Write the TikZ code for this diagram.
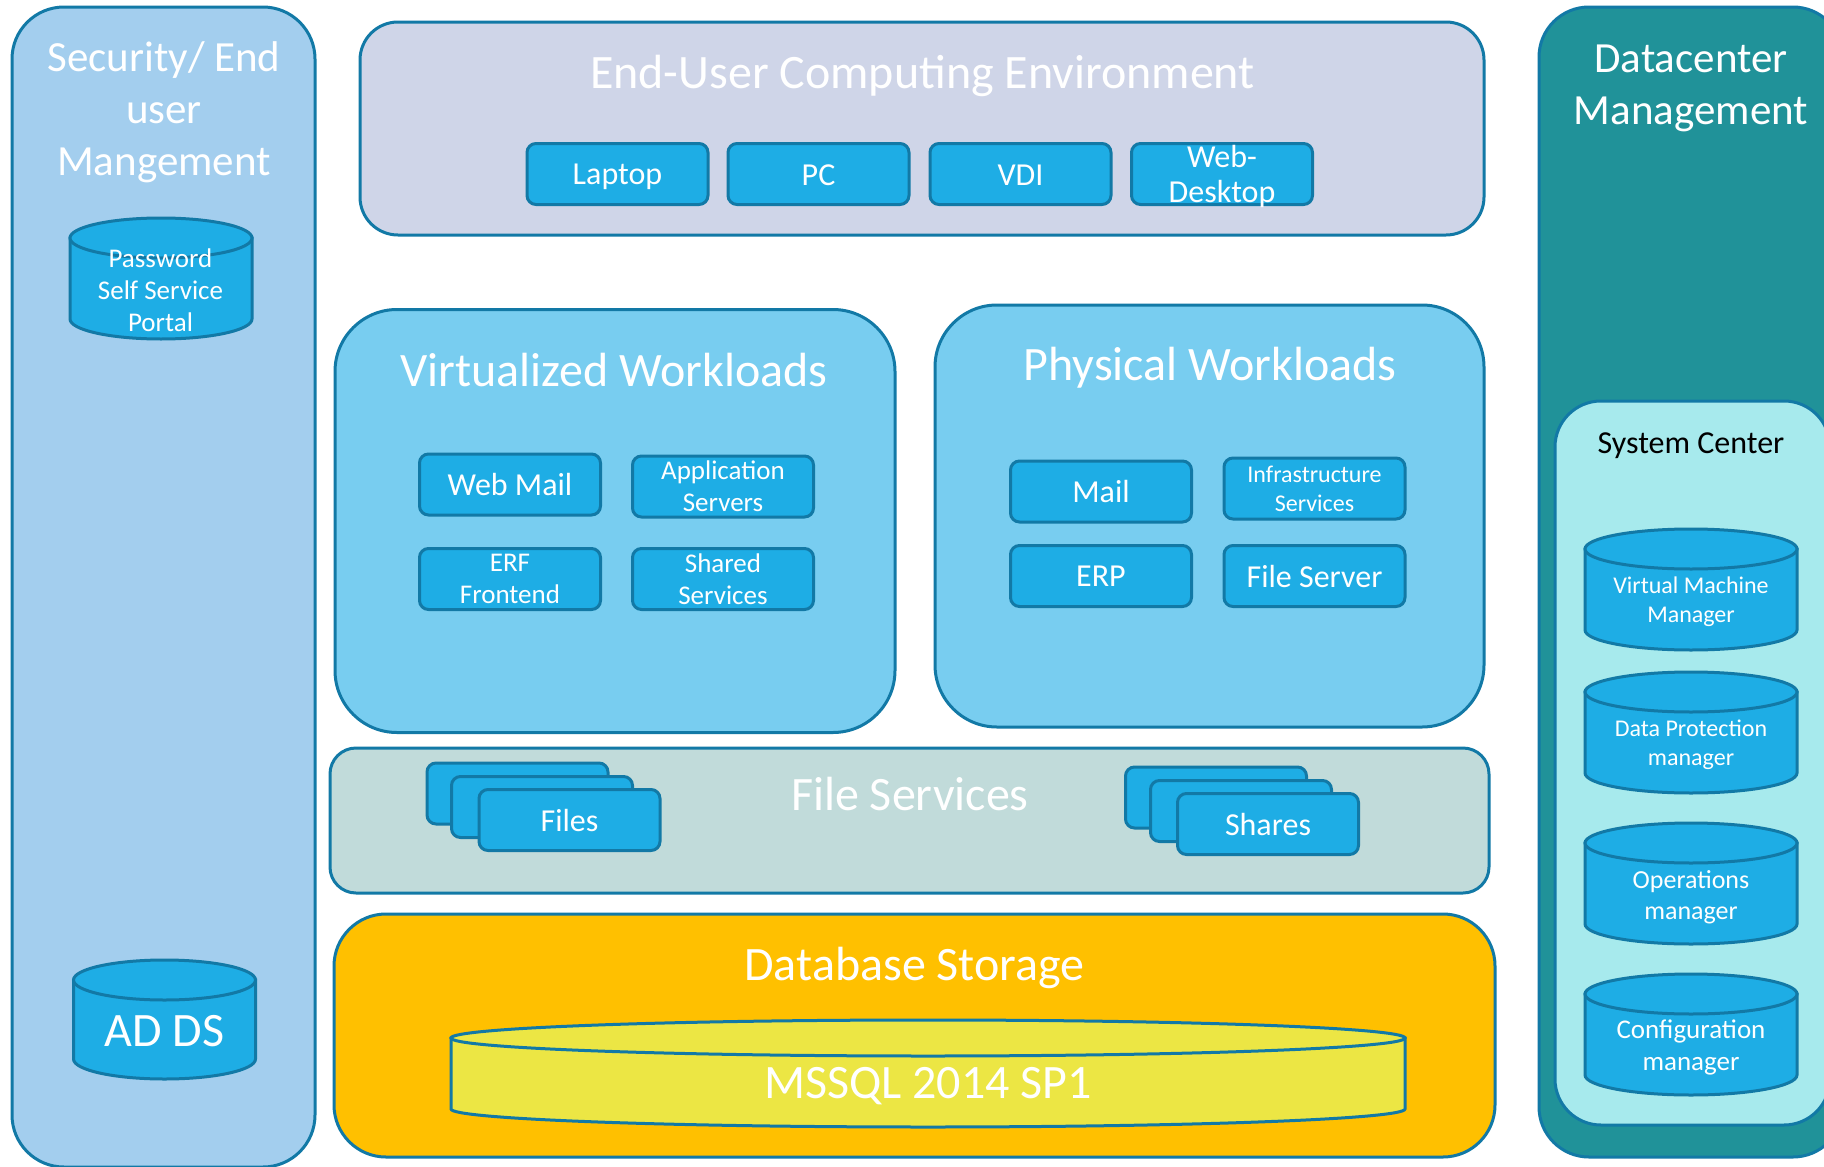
\documentclass[tikz,border=0pt]{standalone}
\usepackage{fontspec}
\setmainfont{Carlito}
\usepackage{tikz}
\definecolor{edgeblue}{HTML}{1279A6}
\definecolor{boxblue}{HTML}{1EADE5}
\definecolor{secblue}{HTML}{A3CEEE}
\definecolor{userlilac}{HTML}{CFD5E8}
\definecolor{workblue}{HTML}{78CDF0}
\definecolor{filegrey}{HTML}{C1DBDA}
\definecolor{dbamber}{HTML}{FFC000}
\definecolor{sqlyellow}{HTML}{ECE644}
\definecolor{dcteal}{HTML}{209299}
\definecolor{sysaqua}{HTML}{A7EAED}
\newcommand{\fs}[1]{\fontsize{#1}{\the\numexpr#1*6/5\relax}\selectfont}
% centre, half width, rim centre, rim radius, end of side
\newcommand{\drumat}[6][boxblue]{
	\filldraw[drumline, fill=#1] (#2-#3,#4) -- (#2-#3,#6) arc[x radius=#3, y radius=#5, start angle=180, end angle=0] -- (#2+#3,#4) -- cycle;
	\filldraw[drumline, fill=#1] (#2,#4) ellipse [x radius=#3, y radius=#5];
}

\begin{document}
\begin{tikzpicture}[x=1pt, y=-1pt,
		panel/.style={draw=edgeblue, line width=3pt, rounded corners=#1, inner sep=0pt},
		tile/.style={draw=edgeblue, line width=3pt, rounded corners=9pt, fill=boxblue, minimum width=181pt, minimum height=61pt, inner sep=0pt},
		drumline/.style={draw=edgeblue, line width=3pt},
		title/.style={text=white, align=center, inner sep=0pt, font=\fs{#1}},
		tilelabel/.style={text=white, align=center, inner sep=0pt, font=\fs{#1}}]
	\clip (0,0) rectangle (1824,1167);
	\fill[white] (0,0) rectangle (1824,1167);
	% 
	\node[panel=52pt, fill=secblue, minimum width=303pt, minimum height=1160pt] (security) at (163.5,587) {};
	\node[title=43] (securitytitle) at (164,112) {Security/ End\\user\\Mangement};
	\drumat{161}{91}{238}{20}{319}
	\node[tilelabel=27] (password) at (160.5,290) {Password\\Self Service\\Portal};
	\drumat{164.5}{91}{980}{20}{1059}
	\node[tilelabel=48] (adds) at (164.5,1031) {AD DS};
	% 
	\node[panel=38pt, fill=userlilac, minimum width=1124pt, minimum height=213pt] (enduser) at (922,128.5) {};
	\node[title=48] (endusertitle) at (922.5,76) {End-User Computing Environment};
	\node[tile] (laptop) at (617.5,174) {};
	\node[tile] (pc) at (818.5,174) {};
	\node[tile] (vdi) at (1020.5,174) {};
	\node[tile] (webdesktop) at (1222,174) {};
	\node[tilelabel=32, yshift=-3pt] at (laptop) {Laptop};
	\node[tilelabel=32, yshift=-1pt] at (pc) {PC};
	\node[tilelabel=32, yshift=-1pt] at (vdi) {VDI};
	\node[tilelabel=32, yshift=-2pt] at (webdesktop) {Web-\\[-3pt]Desktop};
	% 
	\node[panel=62pt, fill=workblue, minimum width=560pt, minimum height=423pt] (virtualized) at (615,521) {};
	\node[title=48] (virtualizedtitle) at (614,370) {Virtualized Workloads};
	\node[tile] (webmail) at (510,484.5) {};
	\node[tile] (appservers) at (723,486.5) {};
	\node[tile] (erf) at (510,579) {};
	\node[tile] (shared) at (723,579) {};
	\node[tilelabel=32] at (webmail) {Web Mail};
	\node[tilelabel=27] at (appservers) {Application\\Servers};
	\node[tilelabel=27] at (erf) {ERF\\Frontend};
	\node[tilelabel=27] at (shared) {Shared\\Services};
	% 
	\node[panel=62pt, fill=workblue, minimum width=549pt, minimum height=422pt] (physical) at (1209.5,516) {};
	\node[title=48] (physicaltitle) at (1210,368) {Physical Workloads};
	\node[tile] (mail) at (1101,491.5) {};
	\node[tile] (infra) at (1314.5,488.5) {};
	\node[tile] (erp) at (1101,576) {};
	\node[tile] (fileserver) at (1314.5,576) {};
	\node[tilelabel=32] at (mail) {Mail};
	\node[tilelabel=24] at (infra) {Infrastructure\\Services};
	\node[tilelabel=32] at (erp) {ERP};
	\node[tilelabel=32] at (fileserver) {File Server};
	% 
	\node[panel=26pt, fill=filegrey, minimum width=1159pt, minimum height=145pt] (fileservices) at (909.5,820.5) {};
	\node[title=48] (fileservicestitle) at (910,794) {File Services};
	\node[tile] (filesback) at (517.5,793.5) {};
	\node[tile] (filesmid) at (542,807) {};
	\node[tile] (files) at (569.5,820) {};
	\node[tilelabel=32] at (files) {Files};
	\node[tile] (sharesback) at (1216,797.5) {};
	\node[tile] (sharesmid) at (1241,811) {};
	\node[tile] (shares) at (1268,824) {};
	\node[tilelabel=32] at (shares) {Shares};
	% 
	\node[panel=52pt, fill=dbamber, minimum width=1161pt, minimum height=243pt] (database) at (914.5,1035.5) {};
	\node[title=48] (databasetitle) at (914.5,968) {Database Storage};
	\drumat[sqlyellow]{928}{477}{1038}{18}{1109}
	\node[title=48] (mssql) at (928,1086) {MSSQL 2014 SP1};
	% 
	\node[panel=50pt, fill=dcteal, minimum width=304pt, minimum height=1150pt] (datacenter) at (1691,582) {};
	\node[title=43] (datacentertitle) at (1691,88) {Datacenter\\Management};
	\node[panel=46pt, fill=sysaqua, minimum width=275pt, minimum height=724pt] (syscenter) at (1692.5,763) {};
	\node[title=32, text=black] (syscentertitle) at (1691,446) {System Center};
	\drumat{1691}{106}{549}{20}{630}
	\node[tilelabel=24] (vmm) at (1691,602) {Virtual Machine\\Manager};
	\drumat{1691}{106}{692}{20}{773}
	\node[tilelabel=24] (dpm) at (1691,745) {Data Protection\\manager};
	\drumat{1691}{106}{843}{20}{924}
	\node[tilelabel=26] (opsmgr) at (1691,897) {Operations\\manager};
	\drumat{1691}{106}{994}{20}{1075}
	\node[tilelabel=27] (configmgr) at (1691,1047) {Configuration\\manager};
\end{tikzpicture}
\end{document}
